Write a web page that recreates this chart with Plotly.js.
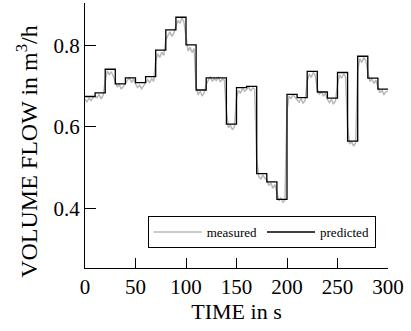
<!DOCTYPE html>
<html>
<head>
<meta charset="utf-8">
<script src="https://cdn.plot.ly/plotly-3.0.1.min.js"></script>
<style>html,body{margin:0;padding:0;background:#fff;}#chart{width:411px;height:331px;}</style>
</head>
<body>
<div id="chart"></div>
<script>
// Predicted: step starts (s) and values (m^3/h)
var predT = [0,10,20,30,40,50,60,70,80,90,100,110,120,140,150,160,170,180,190,200,210,220,230,240,250,260,270,280,290,300];
var predV = [0.675,0.684,0.742,0.706,0.721,0.709,0.724,0.789,0.839,0.870,0.802,0.691,0.721,0.607,0.697,0.700,0.485,0.465,0.422,0.680,0.672,0.737,0.686,0.671,0.734,0.565,0.774,0.720,0.693,0.693];

// Measured: samples every 2 s from 0 to 300 s
var measT = [];
for (var i = 0; i <= 150; i++) measT.push(i * 2);
var measV = [
0.668,0.662,0.671,0.665,0.673,
0.676,0.672,0.680,0.669,0.678,
0.712,0.738,0.729,0.736,0.725,
0.712,0.698,0.704,0.693,0.700,
0.708,0.716,0.722,0.709,0.718,
0.706,0.697,0.703,0.694,0.701,
0.708,0.716,0.709,0.719,0.712,
0.762,0.780,0.771,0.784,0.776,
0.815,0.826,0.834,0.823,0.831,
0.848,0.862,0.855,0.868,0.858,
0.820,0.787,0.796,0.783,0.793,
0.700,0.679,0.688,0.676,0.684,
0.705,0.716,0.724,0.712,0.719,
0.714,0.723,0.711,0.718,0.715,
0.640,0.598,0.604,0.593,0.601,
0.672,0.690,0.683,0.695,0.688,
0.692,0.699,0.688,0.696,0.693,
0.520,0.478,0.471,0.482,0.474,
0.470,0.456,0.462,0.449,0.458,
0.440,0.418,0.426,0.414,0.421,
0.640,0.676,0.670,0.679,0.673,
0.668,0.661,0.670,0.658,0.666,
0.712,0.730,0.722,0.734,0.727,
0.695,0.680,0.687,0.676,0.683,
0.668,0.660,0.668,0.656,0.664,
0.705,0.728,0.720,0.731,0.723,
0.600,0.558,0.564,0.553,0.561,
0.740,0.768,0.759,0.771,0.763,
0.735,0.712,0.718,0.707,0.715,
0.698,0.684,0.690,0.680,0.687,
0.688];

var xTicks = [0,50,100,150,200,250,300];
var yTicks = [0.4,0.6,0.8];
var yTitle = 'VOLUME FLOW in m<sup>3</sup>/h';
var xTitle = 'TIME in s';

var fam = '"Liberation Serif", "DejaVu Serif", serif';
function f(size){ return {family: fam, size: size, color: '#000'}; }

var traces = [
  {x: measT, y: measV, type: 'scatter', mode: 'lines', name: 'measured',
   line: {color: '#b8b8b8', width: 1.5}},
  {x: predT, y: predV, type: 'scatter', mode: 'lines', name: 'predicted',
   line: {color: '#000', width: 1.3, shape: 'hv'}}
];

var layout = {
  width: 411, height: 331,
  margin: {l: 85, r: 23, t: 3, b: 63},
  paper_bgcolor: '#fff', plot_bgcolor: '#fff',
  font: f(16),
  showlegend: true,
  legend: {orientation: 'h', x: 0.207, y: 0.196, xanchor: 'left', yanchor: 'top',
    bordercolor: '#000', borderwidth: 1, bgcolor: '#fff', itemwidth: 48,
    font: f(13)},
  xaxis: {range: [0, 300], tickvals: xTicks, ticktext: xTicks.map(String),
    ticks: 'inside', ticklen: 10, tickwidth: 1, tickcolor: '#000',
    showline: true, linecolor: '#000', linewidth: 1, showgrid: false, zeroline: false,
    tickfont: f(21),
    title: {text: xTitle, font: f(22), standoff: 2}},
  yaxis: {range: [0.253, 0.905], tickvals: yTicks, ticktext: yTicks.map(function(v){return v.toFixed(1);}),
    ticks: 'inside', ticklen: 11, tickwidth: 1, tickcolor: '#000',
    showline: true, linecolor: '#000', linewidth: 1, showgrid: false, zeroline: false,
    tickfont: f(21)},
  annotations: [{text: yTitle, textangle: -90, xref: 'paper', yref: 'paper',
    x: -0.19, y: 0.44, xanchor: 'center', yanchor: 'middle', showarrow: false,
    font: f(24)}]
};

Plotly.newPlot('chart', traces, layout, {displayModeBar: false, staticPlot: true});
</script>
</body>
</html>
